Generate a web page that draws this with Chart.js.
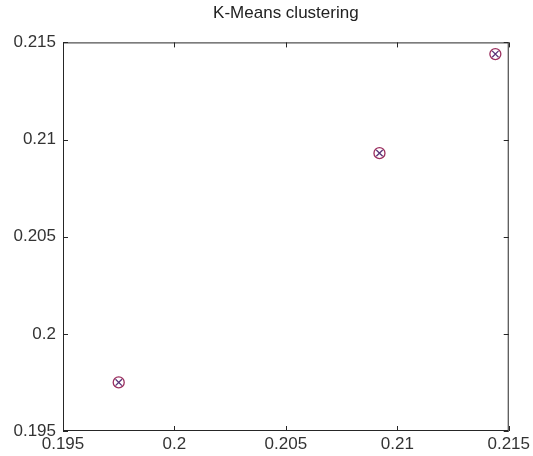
<!DOCTYPE html>
<html>
<head>
<meta charset="utf-8">
<script src="https://cdn.jsdelivr.net/npm/chart.js@4/dist/chart.umd.min.js"></script>
<style>
  html, body { margin: 0; padding: 0; background: #fff; }
  #wrap { width: 533px; height: 456px; }
</style>
</head>
<body>
<div id="wrap"><canvas id="grafica" width="533" height="456"></canvas></div>
<script>
// cluster centres
var centrosX = [0.1975, 0.2092, 0.2144];
var centrosY = [0.1975, 0.2093, 0.2144];
var ticks = [0.195, 0.2, 0.205, 0.21, 0.215];

var puntos = centrosX.map(function(x, i){ return {x: x, y: centrosY[i]}; });

// MATLAB style box with inward ticks on all four sides
var cajaMatlab = {
    id: "cajaMatlab",
    afterDraw: function(chart){
        var ctx = chart.ctx, a = chart.chartArea;
        var sx = chart.scales.x, sy = chart.scales.y;
        ctx.save();
        ctx.strokeStyle = "#262626";
        ctx.lineWidth = 1;
        ctx.strokeRect(a.left + 0.5, a.top + 0.5, a.right - a.left - 1, a.bottom - a.top - 1);
        ctx.beginPath();
        ticks.forEach(function(t){
            var px = Math.round(sx.getPixelForValue(t)) + 0.5;
            ctx.moveTo(px, a.bottom); ctx.lineTo(px, a.bottom - 5);
            ctx.moveTo(px, a.top); ctx.lineTo(px, a.top + 5);
            var py = Math.round(sy.getPixelForValue(t)) + 0.5;
            ctx.moveTo(a.left, py); ctx.lineTo(a.left + 5, py);
            ctx.moveTo(a.right, py); ctx.lineTo(a.right - 5, py);
        });
        ctx.stroke();
        ctx.restore();
    }
};

function escala(ancho, pad){
    return {
        type: "linear",
        min: 0.195,
        max: 0.215,
        afterBuildTicks: function(s){ s.ticks = ticks.map(function(v){ return {value: v}; }); },
        ticks: {
            color: "#333",
            font: {family: "Liberation Sans", size: 17},
            padding: pad,
            maxRotation: 0,
            callback: function(v){ return String(+v.toFixed(3)); }
        },
        grid: {display: false, drawTicks: false},
        border: {display: false},
        afterFit: ancho
    };
}

var canva = document.getElementById("grafica").getContext("2d");
var chartK = new Chart(canva, {
    type: "scatter",
    data: {
        datasets: [{
            label: "circulo",
            data: puntos,
            pointStyle: "circle",
            pointRadius: 5.5,
            borderColor: "#9b2f5f",
            backgroundColor: "rgba(0,0,0,0)",
            borderWidth: 1.3
        },{
            label: "cruz",
            data: puntos,
            pointStyle: "crossRot",
            pointRadius: 4.5,
            borderColor: "#5a3478",
            borderWidth: 1.3
        }]
    },
    options: {
        responsive: false,
        animation: false,
        layout: {padding: {left: 0, right: 22, top: 0, bottom: 0}},
        plugins: {
            legend: {display: false},
            tooltip: {enabled: false},
            title: {
                display: true,
                text: "K-Means clustering",
                color: "#222",
                fullSize: false,
                font: {family: "Liberation Sans", size: 17, weight: "normal"},
                padding: {top: 3, bottom: 19}
            }
        },
        scales: {
            x: escala(function(s){ s.height = 25; }, 3),
            y: escala(function(s){ s.width = 63; }, 7)
        }
    },
    plugins: [cajaMatlab]
});
</script>
</body>
</html>
